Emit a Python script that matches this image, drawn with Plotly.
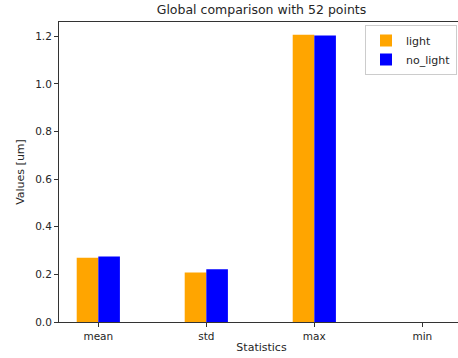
import plotly.graph_objects as go

categories = ["mean", "std", "max", "min"]
light = [0.270, 0.208, 1.206, 0.0]
no_light = [0.275, 0.222, 1.203, 0.0]
y_ticks = [0.0, 0.2, 0.4, 0.6, 0.8, 1.0, 1.2]

FONT = "DejaVu Sans"
fig = go.Figure()
fig.add_trace(go.Bar(x=categories, y=light, name="light", marker_color="#FFA500",
                     marker_line_width=0, width=0.2, offset=-0.2))
fig.add_trace(go.Bar(x=categories, y=no_light, name="no_light", marker_color="#0000FF",
                     marker_line_width=0, width=0.2, offset=0.0))

W, H = 468, 358
L, R, T, B = 59, 4, 22, 36
plot_w = W - L - R
x0 = -0.364
x1 = x0 + plot_w / 108.0

fig.update_layout(
    width=W, height=H,
    margin=dict(l=L, r=R, t=T, b=B, pad=0, autoexpand=False),
    paper_bgcolor="white", plot_bgcolor="white",
    font=dict(family=FONT, size=11, color="#262626"),
    title=dict(text="Global comparison with 52 points", x=(L + L + plot_w) / 2 / W, xanchor="center",
               y=1 - 10 / H, yanchor="middle", font=dict(size=12.5, color="#262626")),
    barmode="overlay",
    showlegend=True,
    legend=dict(x=(457 - L) / plot_w, xanchor="right", y=(H - B - 25) / (H - B - T), yanchor="top",
                bgcolor="rgba(255,255,255,0.8)", bordercolor="#cccccc", borderwidth=1,
                font=dict(size=11), itemsizing="constant", tracegroupgap=2),
    xaxis=dict(type="category", range=[x0, x1], showgrid=False, zeroline=False, automargin=False,
               showline=True, linecolor="#333333", linewidth=1, mirror=True,
               ticks="outside", ticklen=4, tickcolor="#333333", tickfont=dict(size=10.5),
               title=dict(text="Statistics", standoff=2, font=dict(size=11))),
    yaxis=dict(range=[0, 1.26], showgrid=False, zeroline=False, automargin=False,
               showline=True, linecolor="#333333", linewidth=1, mirror=True,
               ticks="outside", ticklen=4, tickcolor="#333333", tickfont=dict(size=10.5),
               tickvals=y_ticks, tickformat=".1f",
               title=dict(text="Values [um]", standoff=8, font=dict(size=11))),
)

fig.write_html("out.html", config={"displayModeBar": False},
               post_script="document.body.style.margin='0';document.body.style.overflow='hidden';"
                           "document.documentElement.style.overflow='hidden';")
